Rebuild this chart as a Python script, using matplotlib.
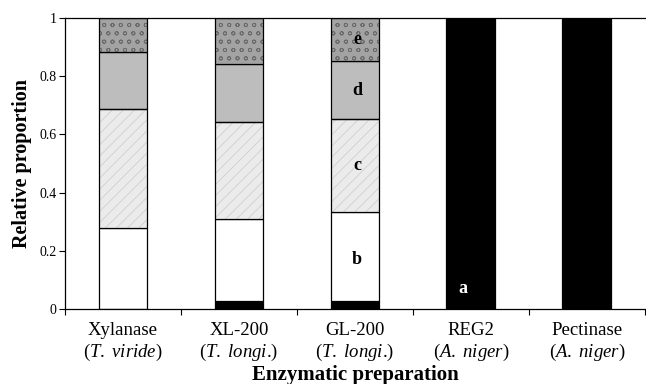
import matplotlib
matplotlib.use("Agg")
import matplotlib.pyplot as plt
import numpy as np

plt.rcParams['font.family'] = ['Liberation Serif', 'DejaVu Serif']
plt.rcParams['mathtext.fontset'] = 'custom'
plt.rcParams['mathtext.rm'] = 'Liberation Serif'
plt.rcParams['mathtext.it'] = 'Liberation Serif:italic'
plt.rcParams['hatch.linewidth'] = 0.6

categories = ["Xylanase", "XL-200", "GL-200", "REG2", "Pectinase"]
species = ["T. viride", "T. longi.", "T. longi.", "A. niger", "A. niger"]
frac_a = [0.0, 0.028, 0.028, 1.0, 1.0]
frac_b = [0.279, 0.280, 0.306, 0.0, 0.0]
frac_c = [0.408, 0.335, 0.318, 0.0, 0.0]
frac_d = [0.195, 0.200, 0.200, 0.0, 0.0]
frac_e = [0.118, 0.157, 0.148, 0.0, 0.0]
seg_letters = ["a", "b", "c", "d", "e"]
yticks = [0, 0.2, 0.4, 0.6, 0.8, 1]
ytick_labels = ["0", "0.2", "0.4", "0.6", "0.8", "1"]

fig = plt.figure(figsize=(6.46, 3.84), dpi=100)
ax = fig.add_axes([0.1006, 0.195, 0.8975, 0.758])

x = np.arange(len(categories))
w = 0.42
segments = [frac_a, frac_b, frac_c, frac_d, frac_e]
styles = [
    dict(fc='black', hatch=None, hc=None),
    dict(fc='white', hatch=None, hc=None),
    dict(fc='#ebebeb', hatch='///', hc='#cfcfcf'),
    dict(fc='#bdbdbd', hatch=None, hc=None),
    dict(fc='#a3a3a3', hatch='oo', hc='#6a6a6a'),
]
bottom = np.zeros(len(categories))
for vals, st in zip(segments, styles):
    vals = np.array(vals)
    if st['hatch']:
        ax.bar(x, vals, w, bottom=bottom, color=st['fc'], hatch=st['hatch'],
               edgecolor=st['hc'], linewidth=0, zorder=2)
        ax.bar(x, vals, w, bottom=bottom, fill=False, edgecolor='black',
               linewidth=0.9, zorder=3)
    else:
        ax.bar(x, vals, w, bottom=bottom, color=st['fc'], edgecolor='black',
               linewidth=0.9, zorder=2)
    bottom += vals

# segment letters on GL-200 and REG2
gi = categories.index("GL-200")
cum = np.cumsum([frac_a[gi], frac_b[gi], frac_c[gi], frac_d[gi], frac_e[gi]])
starts = np.concatenate([[0], cum[:-1]])
for k, letter in enumerate(seg_letters[1:], start=1):
    mid = (starts[k] + cum[k]) / 2
    if letter == 'b':
        mid = 0.17
    ax.text(x[gi] + 0.02, mid, letter, ha='center', va='center',
            fontsize=13, fontweight='bold', zorder=4)
ri = categories.index("REG2")
ax.text(x[ri] - 0.07, 0.07, seg_letters[0], ha='center', va='center',
        fontsize=13, fontweight='bold', color='white', zorder=4)

ax.set_xlim(-0.5, len(categories) - 0.5)
ax.set_ylim(0, 1)
ax.set_yticks(yticks)
ax.set_yticklabels(ytick_labels, fontsize=10)
ax.set_xticks(np.arange(len(categories) + 1) - 0.5)
ax.set_xticklabels([])
ax.tick_params(axis='both', direction='out', length=4, width=0.8)
ax.tick_params(axis='y', pad=2)
for sp in ['top', 'left', 'bottom']:
    ax.spines[sp].set_linewidth(0.9)
ax.spines['right'].set_visible(False)

trans = ax.get_xaxis_transform()
for i, (c, s) in enumerate(zip(categories, species)):
    ax.text(i, -0.072, c, transform=trans, ha='center', va='center', fontsize=13.5)
    if s.endswith('.') and s.count('.') > 1:
        core, tail = s[:-1], '.'
    else:
        core, tail = s, ''
    lab = '(' + r'$\mathit{' + core.replace(' ', r'\ ') + '}$' + tail + ')'
    ax.text(i, -0.148, lab, transform=trans, ha='center', va='center', fontsize=13.5)

ax.text(0.5, -0.225, "Enzymatic preparation", transform=ax.transAxes,
        ha='center', va='center', fontsize=15, fontweight='bold')
ax.set_ylabel("Relative proportion", fontsize=14.5, fontweight='bold', labelpad=5)

fig.savefig("out.png", dpi=100)
